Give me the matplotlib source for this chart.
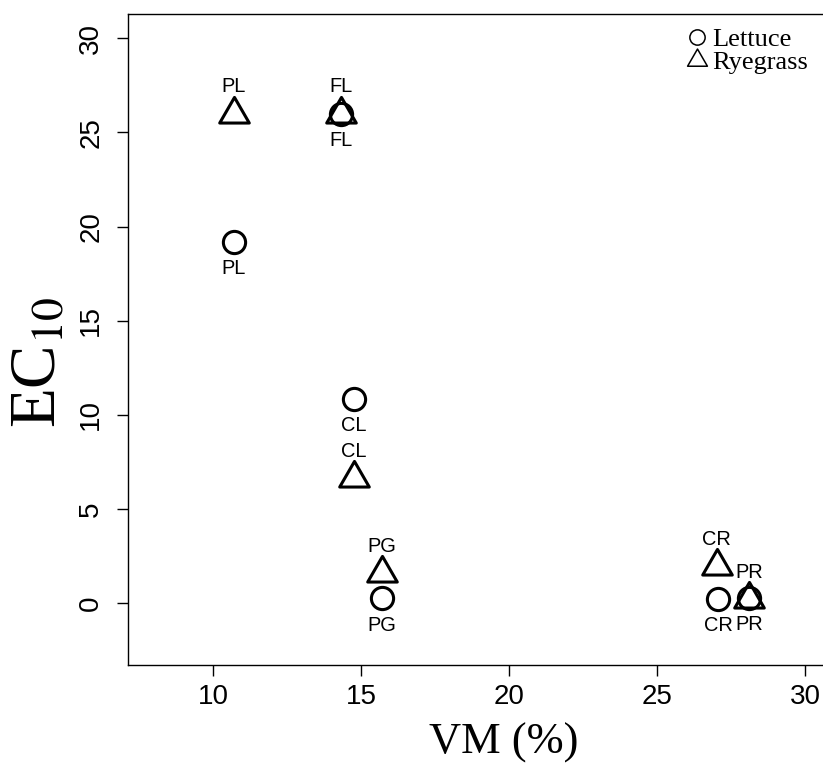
import matplotlib
matplotlib.use('Agg')
import matplotlib.pyplot as plt
from matplotlib.path import Path
from matplotlib.lines import Line2D

# ---- data ----
sites = ['PL', 'FL', 'CL', 'PG', 'CR', 'PR']
vm_lettuce = [10.7, 14.3, 14.75, 15.7, 27.05, 28.1]
ec_lettuce = [19.2, 26.0, 10.85, 0.27, 0.25, 0.3]
vm_ryegrass = [10.7, 14.3, 14.75, 15.7, 27.0, 28.1]
ec_ryegrass = [26.0, 26.0, 6.65, 1.6, 1.95, 0.2]
xticks = [10, 15, 20, 25, 30]
yticks = [0, 5, 10, 15, 20, 25, 30]

plt.rcParams['mathtext.fontset'] = 'stix'

fig = plt.figure(figsize=(8.23, 7.64), dpi=100)
ax = fig.add_axes([0.1559, 0.1296, 0.913, 0.8521])

# triangle centred on its centroid (like R pch=2)
tri = Path([(0, 1), (-0.866, -0.5), (0.866, -0.5), (0, 1)],
           [Path.MOVETO, Path.LINETO, Path.LINETO, Path.CLOSEPOLY])

ax.plot(vm_lettuce, ec_lettuce, linestyle='none', marker='o', ms=16,
        mfc='none', mec='black', mew=2.2)
ax.plot(vm_ryegrass, ec_ryegrass, linestyle='none', marker=tri, ms=24.6,
        mfc='none', mec='black', mew=2.2)

lab_font = dict(family=['Liberation Sans', 'DejaVu Sans'], size=14.4)
for x, y, s in zip(vm_lettuce, ec_lettuce, sites):
    ax.annotate(s, (x, y), xytext=(0, -19.4), textcoords='offset points',
                ha='center', va='center', **lab_font)
for x, y, s in zip(vm_ryegrass, ec_ryegrass, sites):
    ax.annotate(s, (x, y), xytext=(0, 19.4), textcoords='offset points',
                ha='center', va='center', **lab_font)

ax.set_xlim(7.13, 32.51)
ax.set_ylim(-3.28, 31.29)
ax.set_xticks(xticks)
ax.set_yticks(yticks)
ax.tick_params(direction='out', length=7.9, width=1.0, labelsize=20)
ax.tick_params(axis='x', pad=5.8)
ax.tick_params(axis='y', pad=9.4, labelrotation=90)
for lab in ax.get_xticklabels() + ax.get_yticklabels():
    lab.set_fontfamily(['Liberation Sans', 'DejaVu Sans'])
for lab in ax.get_yticklabels():
    lab.set_va('center')
for sp in ax.spines.values():
    sp.set_linewidth(1.0)

serif = ['Liberation Serif', 'DejaVu Serif']
ax.set_xlabel('VM (%)', family=serif, size=32)
ax.set_ylabel('EC$_{10}$', family=serif, size=47, va='center')
ax.xaxis.set_label_coords(0.5, -0.088)
ax.yaxis.set_label_coords(-0.1175, 0.465)

handles = [
    Line2D([], [], linestyle='none', marker='o', ms=11, mfc='none', mec='black', mew=1.1),
    Line2D([], [], linestyle='none', marker=tri, ms=16.5, mfc='none', mec='black', mew=1.1),
]
ax.legend(handles, ['Lettuce', 'Ryegrass'], frameon=False,
          loc='upper left', bbox_to_anchor=(684.0 / 823, 0.964), bbox_transform=fig.transFigure,
          prop=dict(family=serif, size=19),
          handletextpad=0.08, labelspacing=0.0, borderaxespad=0, borderpad=0,
          handlelength=1.0)

fig.savefig('out.png', dpi=100)
